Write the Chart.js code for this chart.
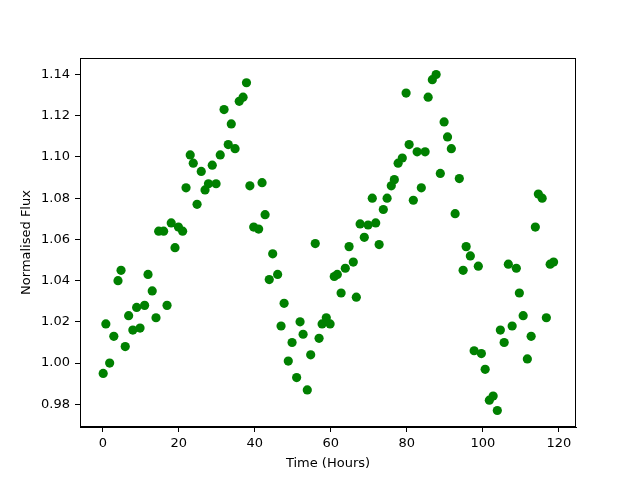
<!DOCTYPE html>
<html>
<head>
<meta charset="utf-8">
<script src="https://cdn.jsdelivr.net/npm/chart.js@4/dist/chart.umd.min.js"></script>
<style>
  body { margin: 0; background: #fff; }
  #wrap { width: 640px; height: 480px; }
</style>
</head>
<body>
<div id="wrap"><canvas id="myChart" width="640" height="480"></canvas></div>
<script>
const timeHours = [
  0.1, 0.8, 1.8, 2.9, 4.0, 4.8, 5.9, 6.8, 7.9, 8.9, 9.8, 11.0, 11.9, 13.0, 14.0,
  14.7, 16.0, 16.9, 18.0, 19.0, 19.9, 21.0, 21.9, 23.0, 23.8, 24.8, 25.9, 26.9,
  27.8, 28.8, 29.8, 30.9, 31.9, 33.0, 33.8, 34.8, 35.9, 36.9, 37.8, 38.7, 39.7,
  41.0, 41.9, 42.7, 43.8, 44.7, 46.0, 46.9, 47.7, 48.8, 49.8, 51.0, 51.9, 52.7,
  53.8, 54.7, 55.9, 56.9, 57.7, 58.8, 59.8, 60.9, 61.7, 62.7, 63.8, 64.8, 65.9,
  66.7, 67.7, 68.8, 69.8, 70.9, 71.8, 72.7, 73.8, 74.8, 75.9, 76.7, 77.7, 78.8,
  79.8, 80.6, 81.7, 82.7, 83.8, 84.8, 85.6, 86.7, 87.7, 88.8, 89.8, 90.7, 91.7,
  92.7, 93.8, 94.8, 95.6, 96.7, 97.7, 98.8, 99.6, 100.6, 101.7, 102.7, 103.8,
  104.6, 105.6, 106.7, 107.7, 108.8, 109.6, 110.6, 111.7, 112.7, 113.8, 114.6,
  115.6, 116.7, 117.7, 118.6
];
const flux = [
  0.995, 1.019, 1.000, 1.013, 1.040, 1.045, 1.008, 1.023, 1.016, 1.027, 1.017, 1.028, 1.043, 1.035, 1.022,
  1.064, 1.064, 1.028, 1.068, 1.056, 1.066, 1.064, 1.085, 1.101, 1.097, 1.077, 1.093, 1.084,
  1.087, 1.096, 1.087, 1.101, 1.123, 1.106, 1.116, 1.104, 1.127, 1.129, 1.136, 1.086, 1.066,
  1.065, 1.0875, 1.072, 1.0405, 1.053, 1.043, 1.018, 1.029, 1.001, 1.010, 0.993, 1.020, 1.014,
  0.987, 1.004, 1.058, 1.012, 1.019, 1.022, 1.019, 1.042, 1.043, 1.034, 1.046, 1.0565, 1.049,
  1.032, 1.0675, 1.061, 1.067, 1.080, 1.068, 1.0575, 1.0745, 1.080, 1.086, 1.089, 1.097, 1.0995,
  1.131, 1.106, 1.079, 1.1025, 1.085, 1.1025, 1.129, 1.1375, 1.140, 1.092, 1.117, 1.1097, 1.104,
  1.0725, 1.0895, 1.045, 1.0565, 1.052, 1.006, 1.047, 1.0046, 0.997, 0.982, 0.984, 0.977,
  1.016, 1.010, 1.048, 1.018, 1.046, 1.034, 1.023, 1.002, 1.013, 1.066, 1.082,
  1.080, 1.022, 1.048, 1.049
];
const xTicks = [0, 20, 40, 60, 80, 100, 120];
const yTicks = [0.98, 1.00, 1.02, 1.04, 1.06, 1.08, 1.10, 1.12, 1.14];

const FONT = "'DejaVu Sans', sans-serif";

// matplotlib-style frame around the plot area
const frameBox = {
  id: "frameBox",
  afterDraw(chart) {
    const { ctx, chartArea: a } = chart;
    ctx.save();
    ctx.strokeStyle = "#000";
    ctx.lineWidth = 1;
    ctx.strokeRect(a.left + 0.5, a.top + 0.5, a.right - a.left - 1, a.bottom - a.top - 1);
    ctx.restore();
  },
};

const ctx = document.getElementById("myChart").getContext("2d");
new Chart(ctx, {
  type: "scatter",
  data: {
    datasets: [
      {
        data: timeHours.map((t, i) => ({ x: t, y: flux[i] })),
        backgroundColor: "#008000",
        borderColor: "#008000",
        pointRadius: 4.6,
        pointHoverRadius: 4.6,
        borderWidth: 0,
      },
    ],
  },
  options: {
    responsive: false,
    animation: false,
    layout: { padding: { left: 0, top: 58, right: 64, bottom: 0 } },
    plugins: {
      legend: { display: false },
      tooltip: { enabled: false },
    },
    scales: {
      x: {
        type: "linear",
        min: -6,
        max: 124.5,
        afterBuildTicks: (scale) => {
          scale.ticks = xTicks.map((v) => ({ value: v }));
        },
        afterFit: (scale) => {
          scale.height = 53;
        },
        grid: {
          drawOnChartArea: false,
          drawTicks: true,
          tickLength: 5,
          tickColor: "#000",
        },
        border: { display: true, color: "#000" },
        ticks: {
          color: "#000",
          padding: 4,
          maxRotation: 0,
          font: { family: FONT, size: 13 },
          callback: (v) => String(v),
        },
        title: {
          display: true,
          text: "Time (Hours)",
          color: "#000",
          font: { family: FONT, size: 13 },
          padding: { top: 4, bottom: 9 },
        },
      },
      y: {
        type: "linear",
        min: 0.969,
        max: 1.148,
        afterBuildTicks: (scale) => {
          scale.ticks = yTicks.map((v) => ({ value: v }));
        },
        afterFit: (scale) => {
          scale.width = 80;
        },
        grid: {
          drawOnChartArea: false,
          drawTicks: true,
          tickLength: 5,
          tickColor: "#000",
        },
        border: { display: true, color: "#000" },
        ticks: {
          color: "#000",
          padding: 5,
          font: { family: FONT, size: 13 },
          callback: (v) => Number(v).toFixed(2),
        },
        title: {
          display: true,
          text: "Normalised Flux",
          color: "#000",
          font: { family: FONT, size: 13 },
          padding: { top: 19, bottom: 0 },
        },
      },
    },
  },
  plugins: [frameBox],
});
</script>
</body>
</html>
